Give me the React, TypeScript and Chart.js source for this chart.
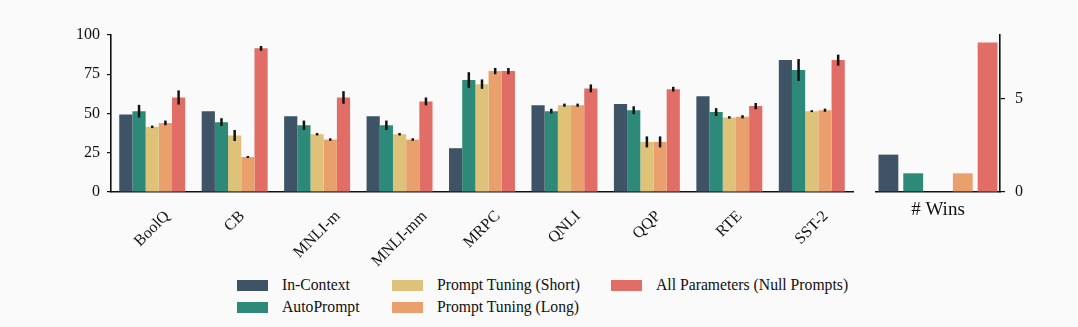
import { useEffect, useRef } from 'react';
import { Chart, registerables } from 'chart.js';

Chart.register(...registerables);

const FONT = "'Liberation Serif', 'Times New Roman', serif";

const categories = ['BoolQ', 'CB', 'MNLI-m', 'MNLI-mm', 'MRPC', 'QNLI', 'QQP', 'RTE', 'SST-2'];
const seriesNames = [
  'In-Context',
  'AutoPrompt',
  'Prompt Tuning (Short)',
  'Prompt Tuning (Long)',
  'All Parameters (Null Prompts)',
];
const seriesColors = ['#3e5466', '#2d8a78', '#dfc27a', '#e9a06c', '#e06e66'];

const inContext = [49.4, 51.5, 48.3, 48.3, 27.9, 55.3, 56.0, 61.0, 84.0];
const inContextErr = [0, 0, 0, 0, 0, 0, 0, 0, 0];
const autoPrompt = [51.5, 44.5, 42.5, 42.5, 71.3, 51.5, 52.1, 50.9, 77.7];
const autoPromptErr = [4, 2.5, 3, 3, 5, 1.5, 2.5, 2.5, 7];
const ptShort = [41.5, 36.0, 36.8, 36.8, 68.7, 55.3, 31.9, 47.5, 51.5];
const ptShortErr = [0.8, 3.5, 0.8, 0.8, 3, 1, 3.5, 0.8, 0.6];
const ptLong = [44.0, 22.3, 33.4, 33.4, 77.0, 55.3, 31.9, 47.9, 52.1];
const ptLongErr = [1.5, 0.6, 0.8, 0.8, 2, 1, 3.5, 1, 1];
const allParams = [60.2, 91.5, 60.2, 57.7, 77.0, 66.0, 65.5, 54.7, 84.0];
const allParamsErr = [4.5, 1.5, 4, 2.5, 2, 2.5, 1.5, 2, 3.5];

const winsLabels = ['# Wins'];
const wins = [2, 1, 0, 1, 8];

const yTicksMain = [0, 25, 50, 75, 100];
const yTicksWins = [0, 5];

const seriesValues = [inContext, autoPrompt, ptShort, ptLong, allParams];
const seriesErrors = [inContextErr, autoPromptErr, ptShortErr, ptLongErr, allParamsErr];

const legendColX = [237, 392, 611];
const legendRowY = [285, 307.5];

const errorBarPlugin = {
  id: 'errbars',
  afterDatasetsDraw(chart: any) {
    const ctx = chart.ctx;
    const y = chart.scales.y;
    ctx.save();
    ctx.strokeStyle = '#111';
    ctx.lineWidth = 2.5;
    chart.data.datasets.forEach((ds: any, d: number) => {
      const errs = ds.errors;
      if (!errs) return;
      const meta = chart.getDatasetMeta(d);
      meta.data.forEach((bar: any, i: number) => {
        const e = errs[i];
        if (!e) return;
        const v = ds.data[i];
        ctx.beginPath();
        ctx.moveTo(bar.x, y.getPixelForValue(v - e));
        ctx.lineTo(bar.x, y.getPixelForValue(v + e));
        ctx.stroke();
      });
    });
    ctx.restore();
  },
};

const rotatedLabelsPlugin = {
  id: 'rotlabels',
  afterDraw(chart: any) {
    const ctx = chart.ctx;
    const xs = chart.scales.x;
    ctx.save();
    ctx.font = `16px ${FONT}`;
    ctx.fillStyle = '#111';
    ctx.textAlign = 'center';
    ctx.textBaseline = 'middle';
    const top = chart.chartArea.bottom + 19;
    (chart.data.labels as string[]).forEach((lab, i) => {
      const x = xs.getPixelForValue(i);
      const w = ctx.measureText(lab).width;
      const side = (w + 8) * Math.SQRT1_2;
      ctx.save();
      ctx.translate(x, top + side / 2);
      ctx.rotate(-Math.PI / 4);
      ctx.fillText(lab, 0, 0);
      ctx.restore();
    });
    ctx.restore();
  },
};

export default function App() {
  const mainRef = useRef<HTMLCanvasElement>(null);
  const winsRef = useRef<HTMLCanvasElement>(null);

  useEffect(() => {
    const c1 = new Chart(mainRef.current as HTMLCanvasElement, {
      type: 'bar',
      data: {
        labels: categories,
        datasets: seriesValues.map((v, k) => ({
          label: seriesNames[k],
          data: v,
          backgroundColor: seriesColors[k],
          borderWidth: 0,
          categoryPercentage: 0.8,
          barPercentage: 1,
          errors: seriesErrors[k],
        })) as any,
      },
      options: {
        animation: false,
        responsive: false,
        events: [],
        layout: { padding: { left: 0, right: 7, top: 35, bottom: 0 } },
        plugins: { legend: { display: false }, tooltip: { enabled: false } },
        scales: {
          x: {
            grid: { display: false, drawTicks: false },
            border: { display: true, color: '#111', width: 1.6 },
            ticks: { display: false },
            afterFit: (s: any) => {
              s.height = 83;
            },
          },
          y: {
            min: 0,
            max: 100,
            afterBuildTicks: (s: any) => {
              s.ticks = yTicksMain.map((v) => ({ value: v }));
            },
            grid: {
              display: true,
              drawOnChartArea: false,
              drawTicks: true,
              tickLength: 4,
              color: '#111',
              lineWidth: 1.2,
            },
            border: { display: true, color: '#111', width: 1.6 },
            ticks: { padding: 7, color: '#111', font: { family: FONT, size: 16 } },
            afterFit: (s: any) => {
              s.width = 111;
            },
          },
        },
      } as any,
      plugins: [errorBarPlugin, rotatedLabelsPlugin],
    });

    const c2 = new Chart(winsRef.current as HTMLCanvasElement, {
      type: 'bar',
      data: {
        labels: winsLabels,
        datasets: wins.map((w, k) => ({
          label: seriesNames[k],
          data: [w],
          backgroundColor: seriesColors[k],
          borderWidth: 0,
          categoryPercentage: 1,
          barPercentage: 0.8,
        })),
      },
      options: {
        animation: false,
        responsive: false,
        events: [],
        layout: { padding: { left: 16, right: 0, top: 35, bottom: 0 } },
        plugins: { legend: { display: false }, tooltip: { enabled: false } },
        scales: {
          x: {
            grid: { display: false, drawTicks: false },
            border: { display: true, color: '#111', width: 1.6 },
            ticks: { padding: 7, maxRotation: 0, color: '#111', font: { family: FONT, size: 19 } },
            afterFit: (s: any) => {
              s.height = 68;
            },
          },
          y: {
            position: 'right',
            min: 0,
            max: 8.4,
            afterBuildTicks: (s: any) => {
              s.ticks = yTicksWins.map((v) => ({ value: v }));
            },
            grid: {
              display: true,
              drawOnChartArea: false,
              drawTicks: true,
              tickLength: 5,
              color: '#111',
              lineWidth: 1.2,
            },
            border: { display: true, color: '#111', width: 1.6 },
            ticks: { padding: 10, color: '#111', font: { family: FONT, size: 16 } },
            afterFit: (s: any) => {
              s.width = 78;
            },
          },
        },
      } as any,
    });

    return () => {
      c1.destroy();
      c2.destroy();
    };
  }, []);

  return (
    <div
      style={{
        position: 'absolute',
        left: 0,
        top: 0,
        width: 1078,
        height: 327,
        background: '#fafafa',
        overflow: 'hidden',
        fontFamily: FONT,
      }}
    >
      <canvas
        ref={mainRef}
        width={860}
        height={275}
        style={{ position: 'absolute', left: 0, top: 0, width: 860, height: 275 }}
      />
      <canvas
        ref={winsRef}
        width={218}
        height={260}
        style={{ position: 'absolute', left: 860, top: 0, width: 218, height: 260 }}
      />
      {seriesNames.map((name, k) => {
        const col = Math.floor(k / 2);
        const row = k % 2;
        const x = legendColX[col];
        const y = legendRowY[row];
        return (
          <div key={name}>
            <div
              style={{
                position: 'absolute',
                left: x,
                top: y - 5.5,
                width: 31,
                height: 11,
                background: seriesColors[k],
              }}
            />
            <div
              style={{
                position: 'absolute',
                left: x + 45,
                top: y - 9.5,
                fontSize: 15.7,
                lineHeight: '18px',
                color: '#111',
                whiteSpace: 'nowrap',
              }}
            >
              {name}
            </div>
          </div>
        );
      })}
    </div>
  );
}
